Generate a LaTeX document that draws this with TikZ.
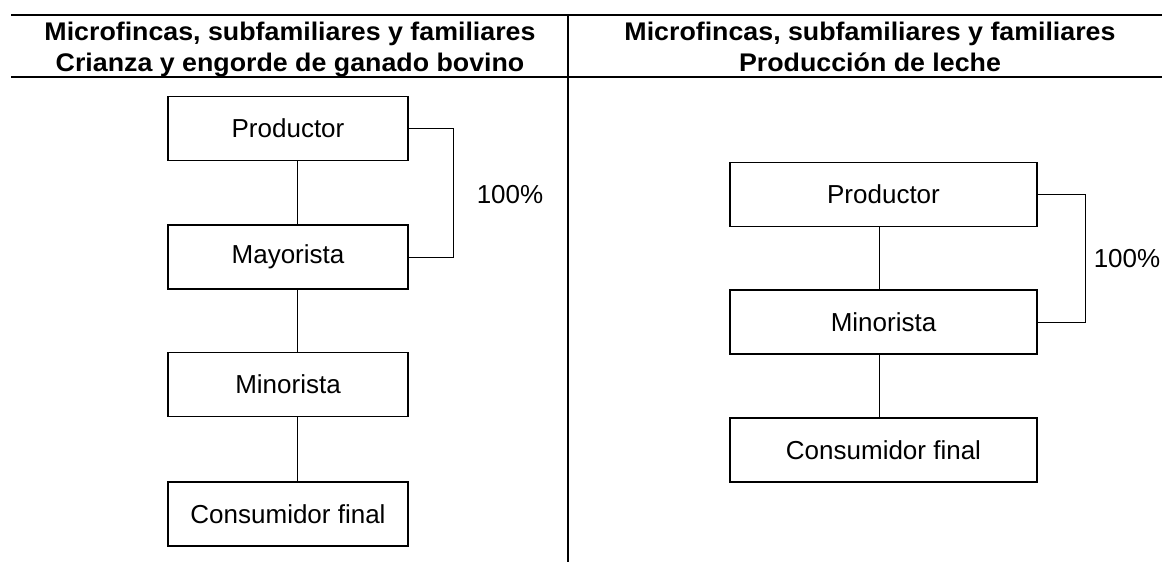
\documentclass[tikz,border=0pt]{standalone}
\usepackage{fontspec}
\setmainfont{Liberation Sans}
\newfontfamily\hdfont{Liberation Sans}[FakeStretch=1.05]
\begin{document}
\begin{tikzpicture}[x=1pt,y=-1pt,
  rule/.style={line width=1.3pt},
  box/.style={draw,line width=1.1pt,minimum height=64pt,inner sep=0pt,font=\fontsize{26}{31}\selectfont},
  lbox/.style={box,minimum width=240pt},
  rbox/.style={box,minimum width=307pt},
  link/.style={line width=1.0pt},
  head/.style={anchor=base,inner sep=0pt,font=\hdfont\bfseries\fontsize{25.5}{31}\selectfont},
  pct/.style={inner sep=0pt,font=\fontsize{26}{31}\selectfont}]
\useasboundingbox (0,0) rectangle (1162,562);
% table rules
\coordinate (tl) at (11,15);
\coordinate (tr) at (1162,15);
\coordinate (hl) at (11,77);
\coordinate (hr) at (1162,77);
\coordinate (dt) at (568,15);
\coordinate (db) at (568,562);
\draw[rule] (tl) -- (tr);
\draw[rule] (hl) -- (hr);
\draw[rule] (dt) -- (db);
% headers
\node[head] (hL1) at (290,40) {Microfincas, subfamiliares y familiares};
\node[head] (hL2) at (290,71) {Crianza y engorde de ganado bovino};
\node[head] (hR1) at (870,40) {Microfincas, subfamiliares y familiares};
\node[head] (hR2) at (870,71) {Producción de leche};
% left chain
\node[lbox] (lp) at (288,128.5) {Productor};
\node[lbox] (lmy) at (288,257) {Mayorista};
\node[lbox] (lmi) at (288,384.5) {Minorista};
\node[lbox] (lc) at (288,514) {Consumidor final};
\draw[link] ([xshift=9pt]lp.south) -- ([xshift=9pt]lmy.north);
\draw[link] ([xshift=9pt]lmy.south) -- ([xshift=9pt]lmi.north);
\draw[link] ([xshift=9pt]lmi.south) -- ([xshift=9pt]lc.north);
\draw[link] (lp.east) -- ++(45pt,0) |- (lmy.east);
\node[pct] (lpct) at (510,195) {100\%};
% right chain
\node[rbox] (rp) at (883.5,194.5) {Productor};
\node[rbox] (rmi) at (883.5,322) {Minorista};
\node[rbox] (rc) at (883.5,450) {Consumidor final};
\draw[link] ([xshift=-4.5pt]rp.south) -- ([xshift=-4.5pt]rmi.north);
\draw[link] ([xshift=-4.5pt]rmi.south) -- ([xshift=-4.5pt]rc.north);
\draw[link] (rp.east) -- ++(48pt,0) |- (rmi.east);
\node[pct] (rpct) at (1127,259) {100\%};
\end{tikzpicture}
\end{document}
